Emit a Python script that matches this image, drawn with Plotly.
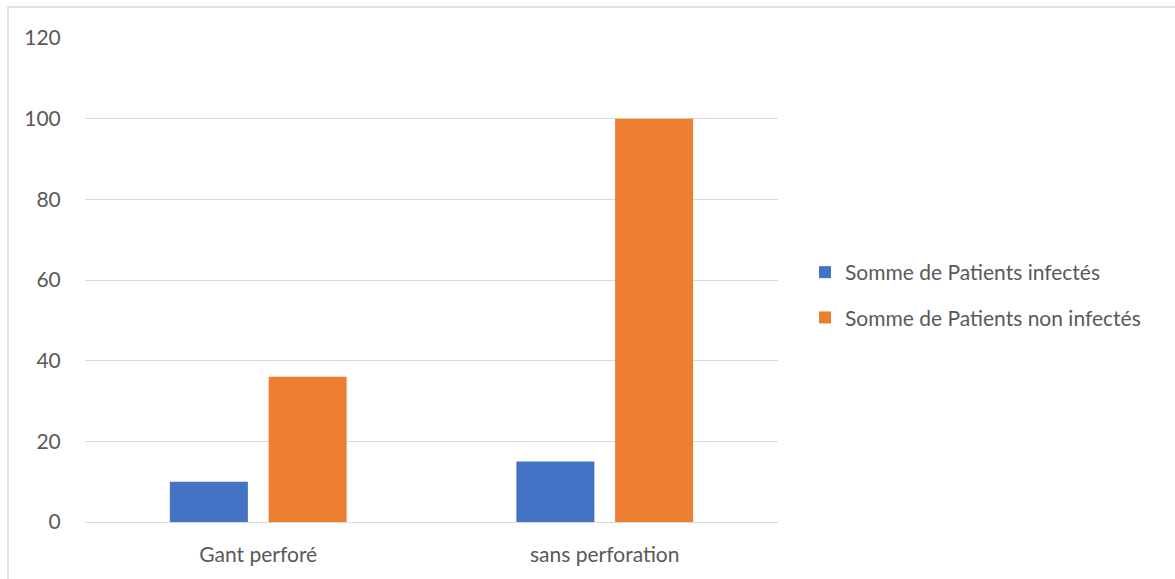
import plotly.graph_objects as go

categories = ["Gant perforé", "sans perforation"]
infectes = [10, 15]
non_infectes = [36, 100]
series_names = ["Somme de Patients infectés", "Somme de Patients non infectés"]
y_ticks = [0, 20, 40, 60, 80, 100, 120]

W, H = 1175, 579
ML, MR, MT, MB = 85, 397, 38, 57
pw, ph = W - ML - MR, H - MT - MB

font_family = "Lato, Open Sans, sans-serif"
text_color = "#595959"
grid_color = "#d9d9d9"
fs = 21

fig = go.Figure()
fig.add_trace(go.Bar(x=categories, y=infectes, name=series_names[0],
                     marker=dict(color="#4472c4", line=dict(width=0)),
                     legendgroup="a"))
fig.add_trace(go.Bar(x=categories, y=non_infectes, name=series_names[1],
                     marker=dict(color="#ed7d31", line=dict(width=0)),
                     legendgroup="b"))

# outer frame of the chart area
fig.add_shape(type="rect", xref="paper", yref="paper",
              x0=(8 - ML) / pw, x1=(W + 10 - ML) / pw,
              y0=(H - MB - (H + 10)) / ph, y1=(H - MB - 7) / ph,
              line=dict(color=grid_color, width=1.5), fillcolor="rgba(0,0,0,0)",
              layer="below")

fig.update_layout(
    width=W, height=H,
    margin=dict(l=ML, r=MR, t=MT, b=MB),
    paper_bgcolor="white", plot_bgcolor="white",
    barmode="group", bargap=0.43, bargroupgap=0.21,
    font=dict(family=font_family, size=fs, color=text_color),
    legend=dict(x=(805 - ML) / pw, y=(H - MB - 295) / ph, xanchor="left", yanchor="middle",
                font=dict(size=fs, color=text_color),
                tracegroupgap=15, itemwidth=30,
                bgcolor="rgba(0,0,0,0)"),
    xaxis=dict(showgrid=False, showline=True, linecolor=grid_color, linewidth=1,
               ticks="outside", ticklen=14, tickcolor="rgba(0,0,0,0)",
               tickfont=dict(size=fs, color=text_color)),
    yaxis=dict(range=[0, 120], tickvals=y_ticks, showgrid=True, gridcolor=grid_color,
               gridwidth=1, zeroline=False, showline=False,
               ticks="outside", ticklen=19, tickcolor="rgba(0,0,0,0)",
               tickfont=dict(size=fs, color=text_color)),
)

fig.write_html("out.html")
